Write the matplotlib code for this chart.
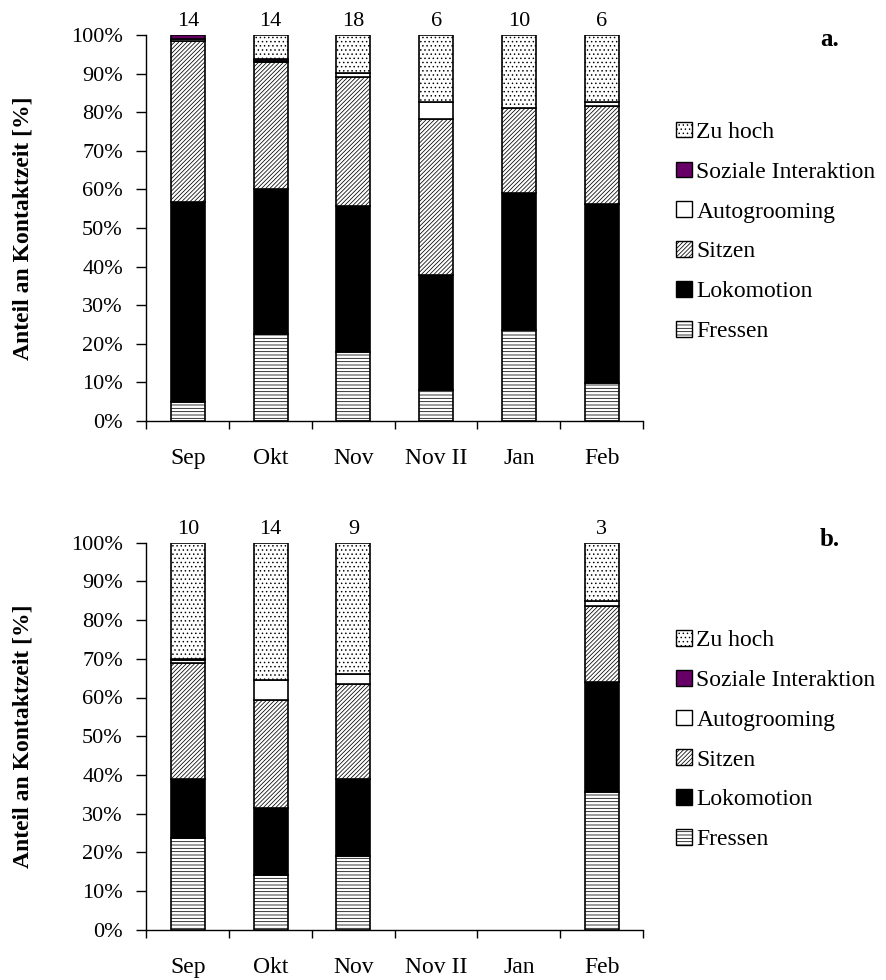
import numpy as np
import matplotlib
matplotlib.use("Agg")
import matplotlib.pyplot as plt
from matplotlib.patches import Patch

plt.rcParams['font.family'] = ['Liberation Serif', 'DejaVu Serif']
plt.rcParams['hatch.linewidth'] = 0.55

months = ['Sep', 'Okt', 'Nov', 'Nov II', 'Jan', 'Feb']
behaviours = ['Fressen', 'Lokomotion', 'Sitzen', 'Autogrooming',
              'Soziale Interaktion', 'Zu hoch']

# Anteile in Prozent je Monat (Gruppe a)
fressen_a = [4.8, 22.6, 17.7, 8.0, 23.6, 9.8]
lokomotion_a = [51.9, 37.6, 38.0, 29.8, 35.6, 46.3]
sitzen_a = [41.7, 32.9, 33.4, 40.4, 22.0, 25.5]
autogrooming_a = [0.6, 0.3, 1.0, 4.5, 0.0, 1.1]
sozial_a = [1.0, 0.4, 0.1, 0.0, 0.0, 0.0]
zu_hoch_a = [0.0, 6.2, 9.8, 17.3, 18.8, 17.3]
n_a = ['14', '14', '18', '6', '10', '6']

# Anteile in Prozent je Monat (Gruppe b)
fressen_b = [23.6, 14.1, 19.1, 0.0, 0.0, 35.5]
lokomotion_b = [15.3, 17.3, 19.8, 0.0, 0.0, 28.5]
sitzen_b = [29.9, 28.0, 24.5, 0.0, 0.0, 19.6]
autogrooming_b = [0.8, 5.0, 2.6, 0.0, 0.0, 1.3]
sozial_b = [0.3, 0.0, 0.0, 0.0, 0.0, 0.0]
zu_hoch_b = [30.1, 35.6, 34.0, 0.0, 0.0, 15.1]
n_b = ['10', '14', '9', '', '', '3']

# Fuellung und Schraffur je Verhaltenskategorie
styles = {
    'Fressen': dict(color='white', hatch='-----'),
    'Lokomotion': dict(color='black', hatch=None),
    'Sitzen': dict(color='white', hatch='////////'),
    'Autogrooming': dict(color='white', hatch=None),
    'Soziale Interaktion': dict(color='#660066', hatch=None),
    'Zu hoch': dict(color='white', hatch='....'),
}

FS = 16


def draw_panel(ax, series, counts, letter, letter_y):
    x = np.arange(len(months))
    bottom = np.zeros(len(months))
    for name, values in zip(behaviours, series):
        values = np.array(values, dtype=float)
        mask = values > 0
        st = styles[name]
        ax.bar(x[mask], values[mask], width=0.41, bottom=bottom[mask],
               color=st['color'], hatch=st['hatch'], edgecolor='black',
               linewidth=1.2, zorder=2)
        bottom += values

    for xi, top, txt in zip(x, bottom, counts):
        if txt:
            ax.annotate(txt, (xi, top), xytext=(0, 3), textcoords='offset points',
                        ha='center', va='bottom', fontsize=FS, annotation_clip=False)

    ax.set_xlim(-0.5, len(months) - 0.5)
    ax.set_ylim(0, 100)
    ax.spines['top'].set_visible(False)
    ax.spines['right'].set_visible(False)
    ax.spines['left'].set_linewidth(1.0)
    ax.spines['bottom'].set_linewidth(1.0)

    ax.set_yticks(np.arange(0, 101, 10))
    ax.set_yticklabels([f'{v}%' for v in range(0, 101, 10)], fontsize=FS)
    ax.tick_params(axis='y', direction='out', length=7, width=1, pad=10)

    ax.set_xticks(x)
    ax.set_xticklabels(months, fontsize=17)
    ax.set_xticks(np.arange(-0.5, len(months), 1.0), minor=True)
    ax.tick_params(axis='x', which='major', length=0, pad=20)
    ax.tick_params(axis='x', which='minor', direction='out', length=6, width=1)

    handles = [Patch(facecolor=styles[b]['color'], hatch=styles[b]['hatch'],
                     edgecolor='black', linewidth=1.0) for b in behaviours]
    ax.legend(handles[::-1], behaviours[::-1], loc='center left',
              bbox_to_anchor=(1.048, 0.49), frameon=False, fontsize=17,
              handlelength=0.65, handleheight=0.65, handletextpad=0.2,
              labelspacing=0.79, borderaxespad=0)

    fig.text(820 / 887, letter_y, letter, fontsize=18, fontweight='bold',
             ha='left', va='center')
    fig.text(23 / 887, ax.get_position().y0 + ax.get_position().height / 2,
             'Anteil an Kontaktzeit [%]', rotation=90, fontsize=17,
             fontweight='bold', ha='center', va='center')


fig = plt.figure(figsize=(8.87, 9.8), dpi=100)
ax_a = fig.add_axes([146.5 / 887, 1 - 420.7 / 980, 496.5 / 887, 385.4 / 980])
ax_b = fig.add_axes([146.5 / 887, 1 - 929.7 / 980, 496.5 / 887, 387.0 / 980])

draw_panel(ax_a, [fressen_a, lokomotion_a, sitzen_a, autogrooming_a, sozial_a, zu_hoch_a],
           n_a, 'a.', 1 - 40 / 980)
draw_panel(ax_b, [fressen_b, lokomotion_b, sitzen_b, autogrooming_b, sozial_b, zu_hoch_b],
           n_b, 'b.', 1 - 540 / 980)

fig.savefig('out.png', dpi=100)
